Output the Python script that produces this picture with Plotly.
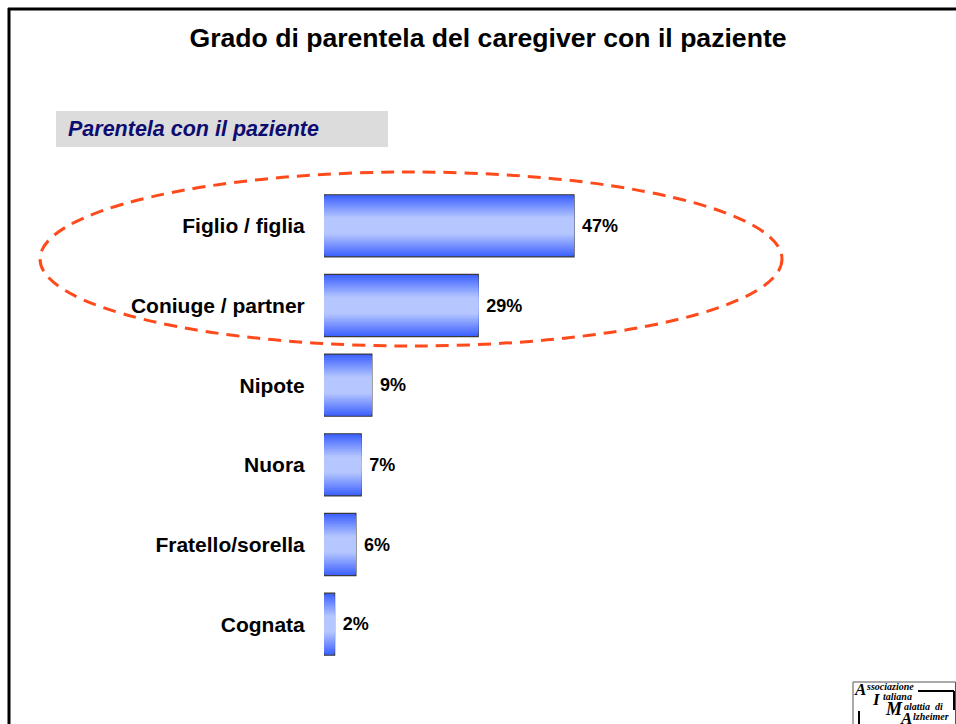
import plotly.graph_objects as go

# data
categories = ["Figlio / figlia", "Coniuge / partner", "Nipote", "Nuora", "Fratello/sorella", "Cognata"]
shares = [47, 29, 9, 7, 6, 2]
share_labels = [f"{v}%" for v in shares]

W, H = 956, 724


def fx(p):
    return p / W


def fy(p):
    return 1 - p / H


FONT = "Liberation Sans, Arial, Helvetica, sans-serif"
SERIF = "Liberation Serif, Times New Roman, serif"

fig = go.Figure()

# vertical gradient on the bars: stacked overlays, widest = darkest
dark = (62, 98, 255)
light = (182, 199, 255)
n_layers = 16
full_w = 0.78
for i in range(n_layers):
    d = 1 - i / n_layers
    t = min(max((d - 0.28) / 0.72, 0), 1)
    c = tuple(round(light[k] + (dark[k] - light[k]) * t) for k in range(3))
    first = i == 0
    fig.add_trace(go.Bar(
        x=shares, y=categories, orientation="h",
        width=full_w * d,
        marker=dict(color=f"rgb{c}",
                    line=dict(color="#3a3a3a", width=1.2 if first else 0)),
        text=share_labels if first else None,
        texttemplate="\u00a0%{text}" if first else None,
        textposition="outside" if first else "none",
        textfont=dict(family=FONT, size=18, color="black", weight="bold"),
        cliponaxis=False,
        hoverinfo="skip" if not first else None,
        showlegend=False,
    ))

fig.update_layout(
    width=W, height=H,
    margin=dict(l=0, r=0, t=0, b=0, autoexpand=False),
    paper_bgcolor="white", plot_bgcolor="white",
    barmode="overlay",
    title=dict(text="Grado di parentela del caregiver con il paziente",
               x=fx(488), xanchor="center", y=fy(38), yanchor="middle",
               font=dict(family=FONT, size=26.6, color="black", weight="bold")),
    xaxis=dict(range=[0, 100], visible=False, domain=[fx(324), fx(856)]),
    yaxis=dict(categoryorder="array", categoryarray=categories, autorange="reversed",
               domain=[fy(664), fy(186)],
               showgrid=False, zeroline=False, showline=False,
               ticks="outside", ticklen=14, tickcolor="rgba(0,0,0,0)",
               tickfont=dict(family=FONT, size=21, color="black", weight="bold")),
)

shapes = [
    # slide frame
    dict(type="line", x0=fx(9), x1=fx(9), y0=fy(8), y1=fy(H + 20), line=dict(color="black", width=3)),
    dict(type="line", x0=fx(8), x1=fx(W + 20), y0=fy(9), y1=fy(9), line=dict(color="black", width=3)),
    # subtitle box
    dict(type="rect", x0=fx(56), x1=fx(388), y0=fy(147), y1=fy(111),
         fillcolor="#dcdcdc", line=dict(width=0), layer="below"),
    # highlight ellipse
    dict(type="circle", x0=fx(40), x1=fx(782), y0=fy(346), y1=fy(172),
         line=dict(color="#ff4a1c", width=3, dash="13px,8px")),
    # logo frame
    dict(type="rect", x0=fx(853), x1=fx(955.5), y0=fy(H + 20), y1=fy(682),
         line=dict(color="#555555", width=1)),
    dict(type="line", x0=fx(918), x1=fx(954), y0=fy(691), y1=fy(691), line=dict(color="black", width=2)),
    dict(type="line", x0=fx(954), x1=fx(954), y0=fy(691), y1=fy(710), line=dict(color="black", width=2)),
    dict(type="line", x0=fx(859), x1=fx(859), y0=fy(711), y1=fy(H + 20), line=dict(color="black", width=2)),
]
for s in shapes:
    s.update(xref="paper", yref="paper")
fig.update_layout(shapes=shapes)

annotations = [
    dict(text="Parentela con il paziente", x=fx(66), y=fy(129), xanchor="left", yanchor="middle",
         font=dict(family=FONT, size=21.5, color="#0c0c70", style="italic", weight="bold")),
]
logo_bits = [
    ("A", 852, 689, 17), ("ssociazione", 864, 686, 10),
    ("I", 870, 699, 17), ("taliana", 881, 696, 10),
    ("M", 883, 709, 18), ("alattia  di", 902, 706, 10),
    ("A", 898, 718, 17), ("lzheimer", 911, 716, 10),
]
for txt, x, y, s in logo_bits:
    annotations.append(dict(text=txt, x=fx(x), y=fy(y), xanchor="left", yanchor="middle",
                            font=dict(family=SERIF, size=s, color="black", weight="bold", style="italic")))
for a in annotations:
    a.update(xref="paper", yref="paper", showarrow=False)
fig.update_layout(annotations=annotations)

# drop the default page margin so the slide sits flush with the window
fig.write_html("out.html", config={"displayModeBar": False},
               post_script="document.body.style.margin='0';document.body.style.overflow='hidden';")
